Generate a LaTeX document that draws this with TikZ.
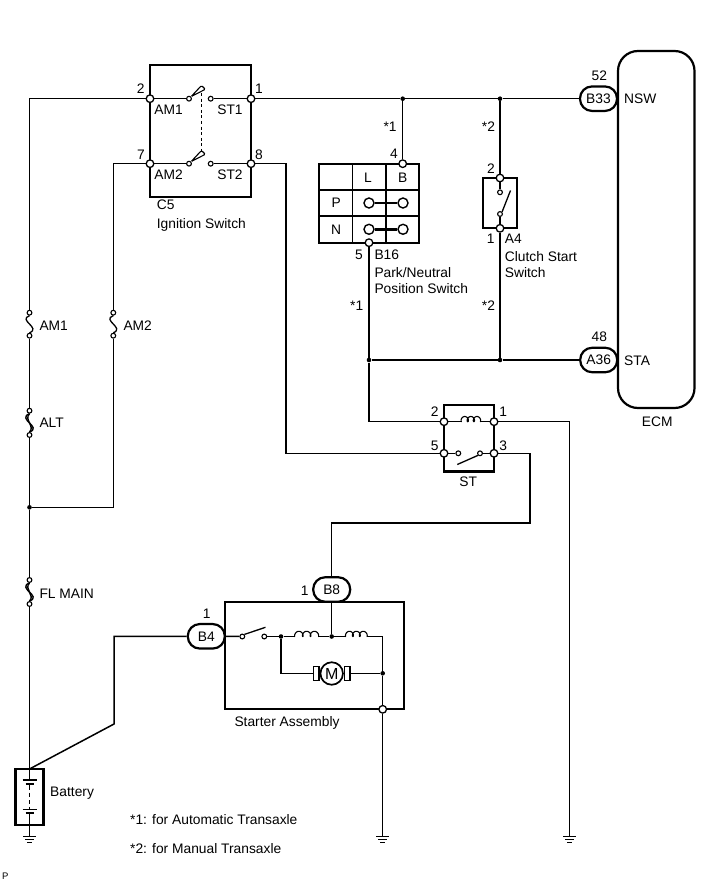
\documentclass[tikz,border=0pt]{standalone}
\usepackage{fontspec}
\setmainfont{Liberation Sans}
\newcommand\diafont{\fontsize{13.8}{16}\selectfont}
% loop coil: #1 = start x, #2 = y, #3 = length
\newcommand\loopcoil[3]{\draw[line width=1.1pt,shift={(#1,#2)}] plot[smooth,domain=0:3,samples=109,variable=\t] ({#3*\t/3-1.9*sin(\t*360)},{-2.6*(1-cos(\t*360))});}
\begin{document}
\begin{tikzpicture}[x=1pt,y=-1pt,
  wire/.style={line width=1.5pt},
  boxl/.style={line width=2.2pt},
  term/.style={circle,draw,fill=white,inner sep=0pt,minimum size=7.6pt,line width=1.3pt},
  cont/.style={circle,draw,fill=white,inner sep=0pt,minimum size=4.8pt,line width=1.1pt},
  jdot/.style={circle,fill,inner sep=0pt,minimum size=4.6pt},
  conn/.style={draw,fill=white,rounded corners=12pt,minimum width=37pt,minimum height=24.5pt,line width=2.2pt,inner sep=0pt,font=\diafont},
  lbl/.style={inner sep=0pt,font=\diafont},
  blade/.style={line width=1.3pt},
  fusel/.style={line width=1.3pt},
  linkl/.style={line width=1.4pt},
  gnd/.pic={\draw[line width=1.5pt] (-6.3,0)--(6.3,0) (-4.3,3)--(4.3,3) (-2.3,6)--(2.3,6);}
]
\useasboundingbox (0,0) rectangle (713,882);

% ---------------- Ignition switch C5
\draw[boxl] (150,65) rectangle (251,197);
\node[term] (am1) at (150,98.7) {};
\node[term] (st1) at (251,98.7) {};
\node[term] (am2) at (150,163.7) {};
\node[term] (st2) at (251,163.7) {};
\node[cont] (p1) at (189,98.7) {};
\node[cont] (c1) at (210.7,98.7) {};
\node[cont] (p2) at (189,163.7) {};
\node[cont] (c2) at (210.7,163.7) {};
\draw[wire] (am1) -- (p1) (c1) -- (st1);
\draw[wire] (am2) -- (p2) (c2) -- (st2);
\draw[line width=1.1pt,rounded corners=1.2pt,fill=white] (p1.north east) -- (201.5,85.5) -- (205.3,89.3) -- cycle;
\draw[line width=1.1pt,rounded corners=1.2pt,fill=white] (p2.north east) -- (201.5,150.5) -- (205.3,154.3) -- cycle;
\draw[line width=1.1pt,dash pattern=on 3pt off 2.6pt] (201.5,93) -- (201.5,151);
\node[lbl,anchor=base] at (140.7,93.3) {2};
\node[lbl,anchor=base] at (259,93.3) {1};
\node[lbl,anchor=base] at (141,160) {7};
\node[lbl,anchor=base] at (259,160) {8};
\node[lbl,anchor=base] at (168.5,115) {AM1};
\node[lbl,anchor=base] at (230,115) {ST1};
\node[lbl,anchor=base] at (168.5,180) {AM2};
\node[lbl,anchor=base] at (230,180) {ST2};
\node[lbl,anchor=base west] at (156.7,210) {C5};
\node[lbl,anchor=base west] at (156.7,228.3) {Ignition Switch};

% ---------------- Fuses (left side)
\coordinate (tl) at (29.5,98.7);
\node[cont] (f1t) at (29.5,312.7) {};
\node[cont] (f1b) at (29.5,335.7) {};
\draw[fusel] (f1t.south) .. controls (17.5,320) and (41.5,328) .. (f1b.north);
\node[cont] (altt) at (29.5,410.7) {};
\node[cont] (altb) at (29.5,435) {};
\draw[linkl] (altt.south) .. controls (16.5,419) and (42.5,427) .. (altb.north);
\draw[linkl] (altt.south) .. controls (23.5,420) and (35.5,426) .. (altb.north);
\node[jdot] (j0) at (29.5,507.3) {};
\node[cont] (flt) at (29.5,580) {};
\node[cont] (flb) at (29.5,604) {};
\draw[linkl] (flt.south) .. controls (16.5,588.3) and (42.5,596) .. (flb.north);
\draw[linkl] (flt.south) .. controls (23.5,589.3) and (35.5,595) .. (flb.north);
\coordinate (bt) at (29.5,769);
\draw[wire] (am1) -- (tl) -- (f1t);
\draw[wire] (f1b) -- (altt);
\draw[wire] (altb) -- (j0) -- (flt);
\draw[wire] (flb) -- (bt);
\coordinate (a2c) at (113.3,163.7);
\node[cont] (f2t) at (113.3,312.7) {};
\node[cont] (f2b) at (113.3,335.7) {};
\draw[fusel] (f2t.south) .. controls (101.3,320) and (125.3,328) .. (f2b.north);
\coordinate (a2d) at (113.3,507.3);
\draw[wire] (am2) -- (a2c) -- (f2t);
\draw[wire] (f2b) -- (a2d) -- (j0);
\node[lbl,anchor=base west] at (39.3,330) {AM1};
\node[lbl,anchor=base west] at (123.3,330) {AM2};
\node[lbl,anchor=base west] at (39.3,427.3) {ALT};
\node[lbl,anchor=base west] at (39.3,598.3) {FL MAIN};

% ---------------- ECM
\node[draw,boxl,rounded corners=20pt,minimum width=76.5pt,minimum height=357pt,inner sep=0pt] (ecm) at (656.25,229.5) {};
\node[lbl,anchor=base] at (657.3,426) {ECM};
\node[conn] (b33) at (598.5,98.7) {B33};
\node[conn] (a36) at (598.7,360) {A36};
\node[lbl,anchor=base] at (599.3,81) {52};
\node[lbl,anchor=base west] at (624,104) {NSW};
\node[lbl,anchor=base] at (599.3,341.7) {48};
\node[lbl,anchor=base west] at (624,365) {STA};

% ---------------- Park/Neutral position switch B16
\draw[boxl] (319,163.7) rectangle (419.3,242.7);
\draw[line width=1.3pt] (352.3,163.7) -- (352.3,242.7) (386,163.7) -- (386,242.7)
  (319,190) -- (419.3,190) (319,216) -- (419.3,216);
\node[circle,draw,fill=white,minimum size=10pt,inner sep=0pt,line width=1.4pt] (pl) at (369,203) {};
\node[circle,draw,fill=white,minimum size=10pt,inner sep=0pt,line width=1.4pt] (pb) at (403,203) {};
\node[circle,draw,fill=white,minimum size=10pt,inner sep=0pt,line width=1.4pt] (nl) at (369,229.3) {};
\node[circle,draw,fill=white,minimum size=10pt,inner sep=0pt,line width=1.4pt] (nb) at (403,229.3) {};
\draw[line width=2.6pt] (pl) -- (pb);
\draw[line width=2.6pt] (nl) -- (nb);
\node[term] (t4) at (402.7,163.7) {};
\node[term] (t5) at (369,242.7) {};
\node[lbl,anchor=base] at (394,158.3) {4};
\node[lbl,anchor=base] at (368,182.7) {L};
\node[lbl,anchor=base] at (402.7,182.7) {B};
\node[lbl,anchor=base] at (336.2,207.7) {P};
\node[lbl,anchor=base] at (336.2,235) {N};
\node[lbl,anchor=base] at (359,259.3) {5};
\node[lbl,anchor=base west] at (374.3,259.3) {B16};
\node[lbl,anchor=base west] at (374.3,277) {Park/Neutral};
\node[lbl,anchor=base west] at (374.3,293.3) {Position Switch};
\node[lbl,anchor=base west] at (383.3,131.7) {*1};
\node[lbl,anchor=base west] at (350,310) {*1};

% ---------------- Clutch start switch A4
\draw[boxl] (482.7,178) rectangle (516.7,228.3);
\node[term] (a2) at (500,178) {};
\node[term] (a1) at (500,228.3) {};
\node[cont] (ac1) at (500,192.3) {};
\node[cont] (ac2) at (500,214) {};
\draw[wire] (a2) -- (ac1) (ac2) -- (a1);
\draw[blade] (ac2.north east) -- (510.5,190.5);
\node[lbl,anchor=base] at (491,173.3) {2};
\node[lbl,anchor=base] at (490.8,244) {1};
\node[lbl,anchor=base west] at (504.7,244) {A4};
\node[lbl,anchor=base west] at (504.7,261.7) {Clutch Start};
\node[lbl,anchor=base west] at (504.7,277.7) {Switch};
\node[lbl,anchor=base west] at (481.7,131.7) {*2};
\node[lbl,anchor=base west] at (481.7,310) {*2};

% ---------------- top and STA wiring
\node[jdot] (j1) at (402.7,98.7) {};
\node[jdot] (j2) at (500,98.7) {};
\draw[wire] (st1) -- (j1) -- (j2) -- (b33);
\draw[wire] (j1) -- (t4);
\draw[wire] (j2) -- (a2);
\node[jdot] (j3) at (369,360) {};
\node[jdot] (j4) at (500,360) {};
\draw[wire] (a1) -- (j4);
\draw[wire] (j3) -- (j4) -- (a36);

% ---------------- ST relay
\draw[boxl] (444,405) rectangle (494,471.5);
\node[term] (r2) at (444,421.7) {};
\node[term] (r1) at (494,421.7) {};
\node[term] (r5) at (444,453.3) {};
\node[term] (r3) at (494,453.3) {};
\coordinate (cl) at (461.7,421.7);
\coordinate (cr) at (480,421.7);
\draw[wire] (r2) -- (cl) (cr) -- (r1);
\loopcoil{461.7}{421.7}{18.3}
\node[cont] (rc1) at (458.3,453.3) {};
\node[cont] (rc2) at (480,453.3) {};
\draw[wire] (r5) -- (rc1) (rc2) -- (r3);
\draw[blade] (457.3,464.5) -- (rc2.south west);
\node[lbl,anchor=base] at (434.7,416.7) {2};
\node[lbl,anchor=base] at (503.3,416.7) {1};
\node[lbl,anchor=base] at (434.7,450) {5};
\node[lbl,anchor=base] at (503.3,450) {3};
\node[lbl,anchor=base] at (468.3,486.7) {ST};

\coordinate (k1) at (369,421.7);
\draw[wire] (t5) -- (j3) -- (k1) -- (r2);
\coordinate (k2) at (286,163.7);
\coordinate (k3) at (286,453.3);
\draw[wire] (st2) -- (k2) -- (k3) -- (r5);
\coordinate (k4) at (569.7,421.7);
\coordinate (g3) at (569.7,836.5);
\draw[wire] (r1) -- (k4) -- (g3);
\pic at (g3) {gnd};

% ---------------- Starter assembly
\draw[boxl] (225.3,602) rectangle (404,709.3);
\node[conn] (b8) at (331.7,589.5) {B8};
\node[conn] (b4) at (206.3,636.3) {B4};
\node[lbl,anchor=base] at (304.7,595) {1};
\node[lbl,anchor=base] at (206.7,618.3) {1};
\coordinate (k5) at (530,453.3);
\coordinate (k6) at (530,523);
\coordinate (k7) at (331.7,523);
\draw[wire] (r3) -- (k5) -- (k6) -- (k7) -- (b8);
\node[cont] (s1) at (242.3,636.5) {};
\node[cont] (s2) at (264.3,636.5) {};
\draw[wire] (b4) -- (s1);
\draw[blade] (s1.north east) -- (265.5,627.3);
\node[jdot] (sj1) at (281,636.5) {};
\node[jdot] (sj2) at (331.7,636.5) {};
\node[jdot] (sj3) at (382.7,673.3) {};
\coordinate (m1a) at (295,636.5);
\coordinate (m1b) at (318.3,636.5);
\coordinate (m2a) at (346,636.5);
\coordinate (m2b) at (366.7,636.5);
\coordinate (m2c) at (382.7,636.5);
\draw[wire] (s2) -- (sj1) -- (m1a);
\loopcoil{295}{636.5}{23.3}
\draw[wire] (m1b) -- (sj2) -- (m2a);
\draw[wire] (b8) -- (sj2);
\loopcoil{346}{636.5}{20.7}
\node[term] (sterm) at (382.7,709.3) {};
\draw[wire] (m2b) -- (m2c) -- (sj3) -- (sterm);
\coordinate (m3) at (281,673.3);
\draw[line width=1.5pt,fill=white] (313.3,666.7) rectangle (318.8,680.3);
\draw[line width=1.5pt,fill=white] (344.6,666.7) rectangle (350.1,680.3);
\node[draw,circle,fill=white,minimum size=22.5pt,line width=1.7pt,inner sep=0pt,font=\fontsize{16}{18}\selectfont] (mot) at (331.7,673.5) {M};
\draw[wire] (sj1) -- (m3) -- (313.3,673.3);
\draw[wire] (350.1,673.3) -- (sj3);
\coordinate (g2) at (382.7,836.5);
\draw[wire] (sterm) -- (g2);
\pic at (g2) {gnd};
\node[lbl,anchor=base west] at (234.3,726.7) {Starter Assembly};

% ---------------- Battery
\coordinate (k8) at (114,636.3);
\coordinate (k9) at (114,724);
\draw[wire] (b4) -- (k8) -- (k9) -- (bt);
\draw[line width=2.2pt] (15.5,769) rectangle (43.5,825);
\draw[wire] (bt) -- (29.5,780);
\draw[line width=1.3pt] (22.5,780) -- (36.5,780);
\draw[line width=2pt] (25.5,783.5) -- (33.5,783.5);
\draw[wire] (29.5,783.5) -- (29.5,790);
\draw[wire] (29.5,792.7) -- (29.5,796.7) (29.5,800) -- (29.5,804);
\draw[wire] (29.5,806.5) -- (29.5,809.5);
\draw[line width=1.3pt] (22.5,809.5) -- (36.5,809.5);
\draw[line width=2pt] (25.5,813) -- (33.5,813);
\coordinate (bb) at (29.5,825);
\draw[wire] (29.5,813) -- (bb);
\coordinate (g1) at (29.5,836.5);
\draw[wire] (bb) -- (g1);
\pic at (g1) {gnd};
\node[lbl,anchor=base west] at (50,796.7) {Battery};

% ---------------- notes
\node[lbl,anchor=base west] at (130,824) {*1: for Automatic Transaxle};
\node[lbl,anchor=base west] at (130,853.3) {*2: for Manual Transaxle};
\node[inner sep=0pt,anchor=base west,font=\fontsize{9.5}{11}\selectfont] at (2,879.3) {P};
\end{tikzpicture}
\end{document}
